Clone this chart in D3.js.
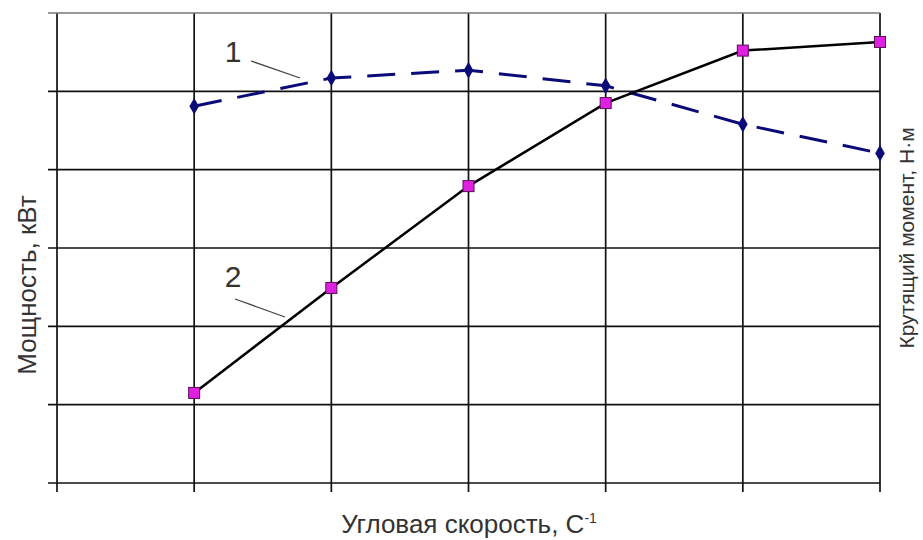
<!DOCTYPE html>
<html>
<head>
<meta charset="utf-8">
<script src="https://cdn.jsdelivr.net/npm/d3@7"></script>
<style>
  body { margin: 0; background: #fff; }
  text { font-family: "Liberation Sans", Arial, sans-serif; }
</style>
</head>
<body>
<script>
// speed points (grid steps along x)
let speeds = [1, 2, 3, 4, 5, 6];
// curve 1 - torque (dashed), curve 2 - power (solid), in grid units
let torque = [4.81, 5.17, 5.27, 5.07, 4.58, 4.21];
let power = [1.15, 2.49, 3.79, 4.85, 5.52, 5.63];
let xTicks = [0, 1, 2, 3, 4, 5, 6];
let yTicks = [0, 1, 2, 3, 4, 5, 6];

let width = 923, height = 540;
let margin = { top: 13, right: 43, bottom: 57, left: 57 };

let svg = d3.select("body").append("svg")
  .attr("width", width)
  .attr("height", height);

let x = d3.scaleLinear().domain([0, 6]).range([margin.left, width - margin.right]);
let y = d3.scaleLinear().domain([0, 6]).range([height - margin.bottom, margin.top]);

// grid
svg.append("g").selectAll("line.v").data(xTicks).enter().append("line")
  .attr("x1", d => x(d)).attr("x2", d => x(d))
  .attr("y1", y(6)).attr("y2", y(0) + 9)
  .attr("stroke", "#111").attr("stroke-width", 1.7);

svg.append("g").selectAll("line.h").data(yTicks).enter().append("line")
  .attr("x1", x(0) - 9).attr("x2", x(6))
  .attr("y1", d => y(d)).attr("y2", d => y(d))
  .attr("stroke", d => d == 6 ? "#777" : "#111")
  .attr("stroke-width", 1.7);

let line = d3.line().x((d, i) => x(speeds[i])).y(d => y(d));

// curve 1
svg.append("path")
  .attr("d", line(torque))
  .attr("fill", "none")
  .attr("stroke", "#0a0a78")
  .attr("stroke-width", 3)
  .attr("stroke-dasharray", "28,16");

svg.append("g").selectAll("path").data(torque).enter().append("path")
  .attr("d", d3.symbol().type(d3.symbolDiamond).size(80))
  .attr("transform", (d, i) => `translate(${x(speeds[i])},${y(d)})`)
  .attr("fill", "#0a0a78");

// curve 2
svg.append("path")
  .attr("d", line(power))
  .attr("fill", "none")
  .attr("stroke", "#000")
  .attr("stroke-width", 2.5);

svg.append("g").selectAll("rect").data(power).enter().append("rect")
  .attr("x", (d, i) => x(speeds[i]) - 5.5)
  .attr("y", d => y(d) - 5.5)
  .attr("width", 11).attr("height", 11)
  .attr("fill", "#e020e0")
  .attr("stroke", "#5a0a5a")
  .attr("stroke-width", 1);

// curve numbers with leader lines
svg.append("text").attr("x", 233).attr("y", 62)
  .attr("text-anchor", "middle").attr("font-size", 30).attr("fill", "#333").text("1");
svg.append("line").attr("x1", 251).attr("y1", 61).attr("x2", 300).attr("y2", 78)
  .attr("stroke", "#444").attr("stroke-width", 1.3);

svg.append("text").attr("x", 233).attr("y", 287)
  .attr("text-anchor", "middle").attr("font-size", 30).attr("fill", "#333").text("2");
svg.append("line").attr("x1", 235).attr("y1", 299).attr("x2", 285).attr("y2", 317)
  .attr("stroke", "#444").attr("stroke-width", 1.3);

// axis titles
svg.append("text")
  .attr("transform", "translate(36,285) rotate(-90)")
  .attr("text-anchor", "middle").attr("font-size", 26).attr("fill", "#333")
  .text("Мощность, кВт");

svg.append("text")
  .attr("transform", "translate(914,238) rotate(-90)")
  .attr("text-anchor", "middle").attr("font-size", 21).attr("fill", "#333")
  .text("Крутящий момент, Н·м");

let xt = svg.append("text")
  .attr("x", 469).attr("y", 533)
  .attr("text-anchor", "middle").attr("font-size", 26).attr("fill", "#333");
xt.append("tspan").text("Угловая скорость, С");
xt.append("tspan").attr("dy", -10).attr("font-size", 14).text("-1");
</script>
</body>
</html>
